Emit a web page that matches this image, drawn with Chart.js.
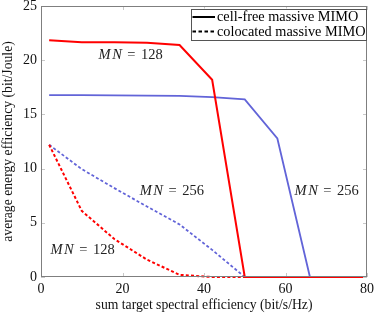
<!DOCTYPE html>
<html>
<head>
<meta charset="utf-8">
<script src="https://cdn.jsdelivr.net/npm/chart.js@4"></script>
<style>
html,body{margin:0;padding:0;background:#fff;}
#wrap{width:374px;height:314px;}
</style>
</head>
<body>
<div id="wrap"><canvas id="c" width="374" height="314"></canvas></div>
<script>
// Sum target spectral efficiency (bit/s/Hz)
const xs = [2, 10, 18, 26, 34, 42, 50, 58, 66, 74, 82];
// Cell-free massive MIMO (solid)
const cellFree128 = [21.84, 21.66, 21.65, 21.6, 21.4, 18.2, 0, 0, 0, 0, 0];
const cellFree256 = [16.78, 16.78, 16.76, 16.73, 16.7, 16.6, 16.38, 12.78, 0, 0, 0];
// Colocated massive MIMO (dashed)
const colocated128 = [12.2, 6.1, 3.5, 1.6, 0.2, 0, 0, 0, 0, 0, 0];
const colocated256 = [12.2, 9.95, 8.2, 6.5, 4.85, 2.5, 0, 0, 0, 0, 0];

const xTicks = [0, 20, 40, 60, 80];
const yTicks = [0, 5, 10, 15, 20, 25];
const legendLabels = ['cell-free massive MIMO', 'colocated massive MIMO'];
const annotations = [
  {value: '128', x: 22, y: 20.45},
  {value: '256', x: 32.1, y: 7.95},
  {value: '256', x: 70.1, y: 7.95},
  {value: '128', x: 10.2, y: 2.5}
];

const RED = '#ff0000';
const BLUE = '#6264d8';
const SERIF = '"Liberation Serif", "DejaVu Serif", serif';

function pts(vals) { return xs.map((x, i) => ({x: x, y: vals[i]})); }

const frameTicks = {
  id: 'frameTicks',
  afterDraw(chart) {
    const ctx = chart.ctx;
    const a = chart.chartArea;
    const xs_ = chart.scales.x, ys_ = chart.scales.y;
    ctx.save();
    ctx.strokeStyle = '#c8c8c8';
    ctx.lineWidth = 1;
    ctx.beginPath();
    xs_.ticks.forEach(t => {
      const px = Math.round(xs_.getPixelForValue(t.value)) + 0.5;
      ctx.moveTo(px, a.bottom); ctx.lineTo(px, a.bottom - 4);
      ctx.moveTo(px, a.top); ctx.lineTo(px, a.top + 4);
    });
    ys_.ticks.forEach(t => {
      const py = Math.round(ys_.getPixelForValue(t.value)) + 0.5;
      ctx.moveTo(a.left, py); ctx.lineTo(a.left + 4, py);
      ctx.moveTo(a.right, py); ctx.lineTo(a.right - 4, py);
    });
    ctx.stroke();
    ctx.strokeStyle = '#7f7f7f';
    ctx.lineWidth = 1;
    ctx.strokeRect(Math.round(a.left) + 0.5, Math.round(a.top) + 0.5,
                   Math.round(a.right - a.left) - 1, Math.round(a.bottom - a.top) - 1);

    // "MN = value" annotations, math-style spacing
    ctx.fillStyle = '#222';
    ctx.textBaseline = 'middle';
    ctx.textAlign = 'left';
    const fs = 14.5;
    annotations.forEach(an => {
      const cx = xs_.getPixelForValue(an.x);
      const cy = ys_.getPixelForValue(an.y);
      const parts = [
        {t: 'M', f: 'italic ' + fs + 'px ' + SERIF, gap: 1.5},
        {t: 'N', f: 'italic ' + fs + 'px ' + SERIF, gap: 5.5},
        {t: '=', f: fs + 'px ' + SERIF, gap: 5.5},
        {t: an.value, f: fs + 'px ' + SERIF, gap: 0}
      ];
      let total = 0;
      parts.forEach(p => { ctx.font = p.f; p.w = ctx.measureText(p.t).width; total += p.w + p.gap; });
      let sx = cx - total / 2;
      parts.forEach(p => { ctx.font = p.f; ctx.fillText(p.t, sx, cy); sx += p.w + p.gap; });
    });

    // legend
    const bx = a.right - 176, by = a.top + 2.5, bw = 174.5, bh = 31;
    ctx.fillStyle = '#fff';
    ctx.fillRect(bx, by, bw, bh);
    ctx.strokeStyle = '#555';
    ctx.lineWidth = 1;
    ctx.strokeRect(Math.round(bx) + 0.5, Math.round(by) + 0.5, Math.round(bw), Math.round(bh));
    ctx.strokeStyle = '#000';
    ctx.lineWidth = 2;
    const rows = [by + 8.5, by + 23];
    rows.forEach((ry, i) => {
      ctx.setLineDash(i === 0 ? [] : [3.5, 2.5]);
      ctx.beginPath();
      ctx.moveTo(bx + 1.5, ry);
      ctx.lineTo(bx + 24, ry);
      ctx.stroke();
    });
    ctx.setLineDash([]);
    ctx.fillStyle = '#000';
    ctx.font = '14.3px ' + SERIF;
    ctx.textAlign = 'left';
    ctx.textBaseline = 'middle';
    rows.forEach((ry, i) => ctx.fillText(legendLabels[i], bx + 26, ry + 0.5));
    ctx.restore();
  }
};

new Chart(document.getElementById('c'), {
  type: 'line',
  data: {
    datasets: [
      {data: pts(cellFree128), borderColor: RED, borderWidth: 2},
      {data: pts(cellFree256), borderColor: BLUE, borderWidth: 1.8},
      {data: pts(colocated128), borderColor: RED, borderWidth: 2, borderDash: [3, 2.2]},
      {data: pts(colocated256), borderColor: BLUE, borderWidth: 1.8, borderDash: [3, 2.2]}
    ].map(d => Object.assign({pointRadius: 0, fill: false, tension: 0,
                              clip: {left: 2, top: 2, right: 0, bottom: 2}}, d))
  },
  options: {
    responsive: false,
    animation: false,
    events: [],
    layout: {padding: {top: 6, right: 7, left: 0, bottom: 0}},
    plugins: {legend: {display: false}, tooltip: {enabled: false}},
    scales: {
      x: {
        type: 'linear', min: 0, max: 80,
        afterBuildTicks: s => { s.ticks = xTicks.map(v => ({value: v})); },
        afterFit: s => { s.height = 37; s.paddingLeft = 0; s.paddingRight = 0; },
        grid: {display: false, drawTicks: false},
        border: {display: false},
        ticks: {color: '#111', padding: 4, font: {family: SERIF, size: 14}, maxRotation: 0},
        title: {display: true, text: 'sum target spectral efficiency (bit/s/Hz)', color: '#111',
                font: {family: SERIF, size: 13.7}, padding: 0}
      },
      y: {
        type: 'linear', min: 0, max: 25,
        afterBuildTicks: s => { s.ticks = yTicks.map(v => ({value: v})); },
        afterFit: s => { s.width = 41; s.paddingTop = 0; s.paddingBottom = 0; },
        grid: {display: false, drawTicks: false},
        border: {display: false},
        ticks: {color: '#111', padding: 4, font: {family: SERIF, size: 14}},
        title: {display: true, text: 'average energy efficiency (bit/Joule)', color: '#111',
                font: {family: SERIF, size: 13.7}, padding: 0}
      }
    }
  },
  plugins: [frameTicks]
});
</script>
</body>
</html>
